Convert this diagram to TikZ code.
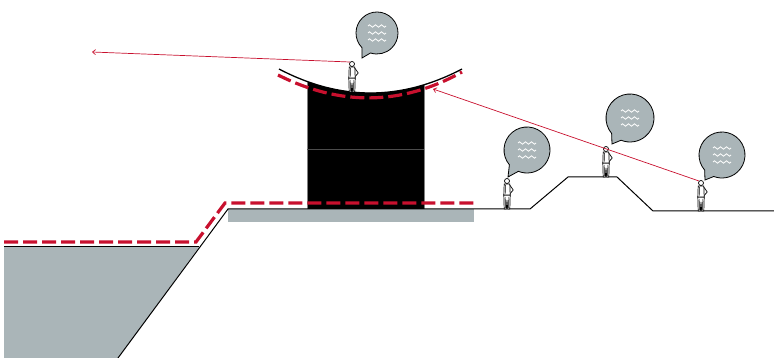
\documentclass[tikz,border=0pt]{standalone}
\usepackage{tikz}
\usetikzlibrary{arrows.meta}
\definecolor{stonegray}{HTML}{AAB5B8}
\definecolor{markred}{HTML}{C8102E}
\tikzset{
    ground line/.style = {draw, line width=1pt},
    flood mark/.style = {draw=markred, line width=3.2pt, dash pattern=on 14pt off 5pt},
    sight line/.style = {draw=markred, line width=0.7pt, -{Straight Barb[length=3pt,width=5pt]}},
    bubble/.style = {draw, fill=stonegray, line width=0.8pt},
}
\tikzset{
    visitor/.pic = {
        \draw[fill=white, line width=0.7pt] (-3.2,-14) -- (-2.8,0) -- (-0.7,0) -- (0,-9) -- (0.7,0) -- (2.8,0) -- (3.2,-14) -- cycle;
        \draw[line width=0.5pt] (-1.8,-12) -- (-1.6,-1) (1.8,-12) -- (1.6,-1);
        \draw[fill=white, line width=0.7pt] (-2.8,-25) -- (2.8,-25) -- (3.2,-14) -- (-3.2,-14) -- cycle;
        \draw[line width=0.7pt] (2.8,-24) -- (6.2,-19) -- (3.2,-15.5);
        \draw[line width=0.5pt] (-1.5,-24) -- (-1.8,-15);
        \draw[fill=white, line width=0.7pt] (0,-28) circle[radius=2.5];
    },
    waves/.pic = {
        \foreach \dy in {-7,0,7}
            \foreach \k in {0,1,2}
                \draw[white, line width=0.8pt] (-9+6*\k,\dy) sin (-7.5+6*\k,\dy-1.2) cos (-6+6*\k,\dy) sin (-4.5+6*\k,\dy+1.2) cos (-3+6*\k,\dy);
    },
}
\begin{document}
\begin{tikzpicture}[x=1pt, y=-1pt]
    \useasboundingbox (0,0) rectangle (774,358);

    % basin and platform
    \fill[stonegray] (4,247) -- (199,247) -- (118,358) -- (4,358) -- cycle;
    \fill[stonegray] (228,209) rectangle (474,222);

    % hall under the roof
    \begin{scope}
        \clip (279,69) .. controls (340,101) and (401,101) .. (462,69) -- (462,230) -- (279,230) -- cycle;
        \fill[black] (307,60) rectangle (424,209);
        \draw[gray, line width=0.6pt] (307,60) -- (307,209) (424,60) -- (424,209);
    \end{scope}
    \draw[black!70, line width=0.6pt] (307,149) -- (424,149);

    % ground profile
    \draw[ground line] (4,247) -- (199,247);
    \draw[ground line] (118,358) -- (228,209) -- (530,209) -- (568,177) -- (617,177) -- (653,211) -- (774,211);
    \draw[line width=1.3pt] (279,69) .. controls (340,101) and (401,101) .. (462,69);

    % water levels
    \draw[flood mark] (4,242) -- (196,242) -- (225,203) -- (474,203);
    \draw[flood mark] (278,75) .. controls (340,106) and (401,106) .. (462,72);

    % people
    \pic at (352,92) {visitor};
    \pic at (507,209) {visitor};
    \pic at (606,177) {visitor};
    \pic at (701,211) {visitor};

    % speech bubbles
    \coordinate (cA) at (377,33);
    \coordinate (tipA) at (362,58);
    \coordinate (cB) at (527,150);
    \coordinate (tipB) at (508,177);
    \coordinate (cC) at (630,118);
    \coordinate (tipC) at (612,144);
    \coordinate (cD) at (722,155);
    \coordinate (tipD) at (705,180);

    \draw[bubble] (cA) ++(136:21) arc[start angle=136, end angle=468, radius=21] -- (tipA) -- cycle;
    \draw[bubble] (cB) ++(140:23) arc[start angle=140, end angle=472, radius=23] -- (tipB) -- cycle;
    \draw[bubble] (cC) ++(140:24) arc[start angle=140, end angle=472, radius=24] -- (tipC) -- cycle;
    \draw[bubble] (cD) ++(139:23) arc[start angle=139, end angle=471, radius=23] -- (tipD) -- cycle;
    \pic at (cA) {waves};
    \pic at (cB) {waves};
    \pic at (cC) {waves};
    \pic at (cD) {waves};

    % lines of sight
    \coordinate (eyeA) at (350,62);
    \coordinate (viewA) at (92,52);
    \coordinate (eyeD) at (699,181);
    \coordinate (viewD) at (433,89);
    \draw[sight line] (eyeA) -- (viewA);
    \draw[sight line] (eyeD) -- (viewD);
\end{tikzpicture}
\end{document}
